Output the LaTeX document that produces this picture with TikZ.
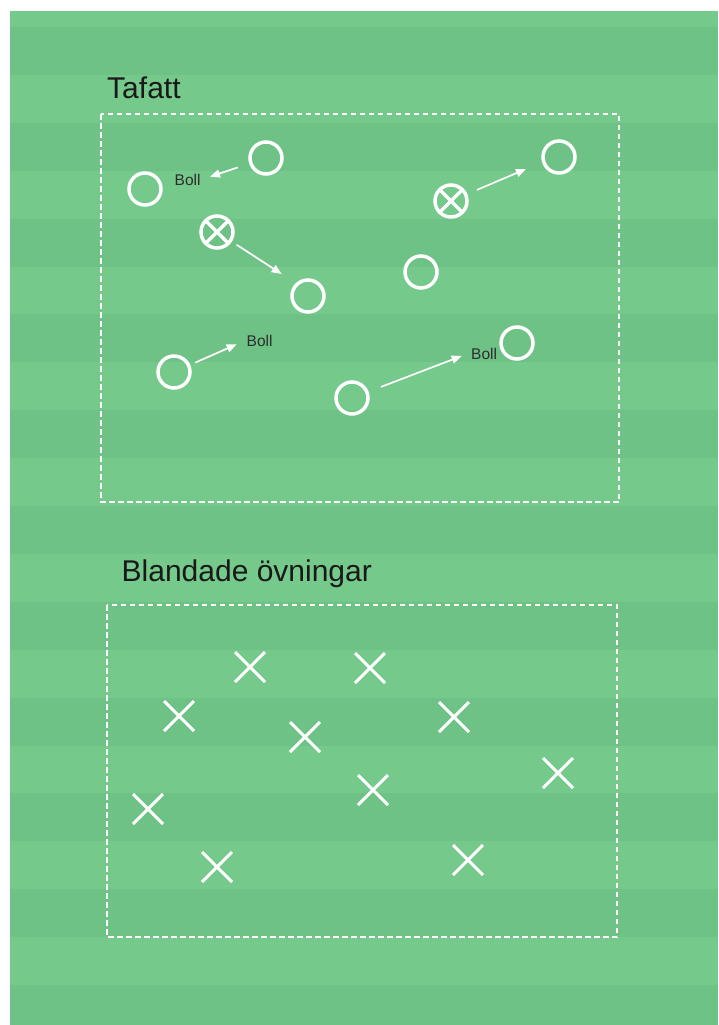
\documentclass[tikz,border=0pt]{standalone}
\usepackage{fontspec}
\setmainfont{Liberation Sans}
\usetikzlibrary{positioning,shapes.misc,arrows.meta}
\definecolor{pitchLight}{RGB}{116,201,139}
\definecolor{pitchDark}{RGB}{111,194,134}
\definecolor{lblGray}{RGB}{45,45,45}

\begin{document}
\begin{tikzpicture}[
            x=1pt, y=-1pt,
            zone/.style={draw=white, line width=1.8pt, dash pattern=on 5.5pt off 3.5pt},
            ttl/.style={anchor=base west, inner sep=0pt, font=\fontsize{30}{36}\selectfont, text=black!90},
            lbl/.style={anchor=base west, inner sep=0pt, font=\fontsize{15.5}{18}\selectfont, text=lblGray},
            pl/.style={circle, draw=white, line width=3.5pt, minimum size=32pt, inner sep=0pt},
            plx/.style={pl, path picture={\draw[white, line width=3.3pt]
                (path picture bounding box.north west) -- (path picture bounding box.south east)
                (path picture bounding box.north east) -- (path picture bounding box.south west);}},
            opp/.style={cross out, draw=white, line width=3pt, minimum size=27pt, inner sep=0pt},
            arr/.style={-{Triangle[length=10pt,width=8pt]}, draw=white, line width=1.7pt}
        ]
            % pitch
            \fill[white] (0,0) rectangle (718,1025);
            \fill[pitchLight] (10,11) rectangle (718,1025);
            \foreach \k in {0,...,10} {
                \fill[pitchDark] (10,{27+95.8*\k}) rectangle (718,{min(1025,75+95.8*\k)});
            }

            % Tafatt
            \node[ttl] (t1) at (107,99) {Tafatt};
            \draw[zone] (101,114) rectangle (619,502);

            \node[pl] (c1) at (145,189) {};
            \node[pl] (c2) at (266,158) {};
            \node[plx] (x1) at (217,232) {};
            \node[pl] (c3) at (308,296) {};
            \node[plx] (x2) at (451,201) {};
            \node[pl] (c4) at (559,157) {};
            \node[pl] (c5) at (421,272) {};
            \node[pl] (c6) at (517,343) {};
            \node[pl] (c7) at (174,372) {};
            \node[pl] (c8) at (352,398) {};

            \node[lbl] (b1) at (174.5,185.5) {Boll};
            \node[lbl] (b2) at (246.5,346) {Boll};
            \node[lbl] (b3) at (471,359.5) {Boll};

            \coordinate (tA) at (210,176.7);
            \coordinate (tB) at (281.7,274);
            \coordinate (tC) at (526,169);
            \coordinate (tD) at (236.7,344.3);
            \coordinate (tE) at (461.7,356);

            \draw[arr, shorten <=12pt] (c2) -- (tA);
            \draw[arr, shorten <=5.6pt] (x1) -- (tB);
            \draw[arr, shorten <=10.5pt] (x2) -- (tC);
            \draw[arr, shorten <=5.6pt] (c7) -- (tD);
            \draw[arr, shorten <=13.3pt] (c8) -- (tE);

            % Blandade övningar
            \node[ttl] (t2) at (121.5,581.5) {Blandade övningar};
            \draw[zone] (107,605) rectangle (617,937);

            \node[opp] (o1) at (250,667) {};
            \node[opp] (o2) at (179,716) {};
            \node[opp] (o3) at (305,737) {};
            \node[opp] (o4) at (148,809) {};
            \node[opp] (o5) at (217,867) {};
            \node[opp] (o6) at (370,668) {};
            \node[opp] (o7) at (454,717) {};
            \node[opp] (o8) at (558,773) {};
            \node[opp] (o9) at (373,790) {};
            \node[opp] (o10) at (468,860) {};
        \end{tikzpicture}
\end{document}
